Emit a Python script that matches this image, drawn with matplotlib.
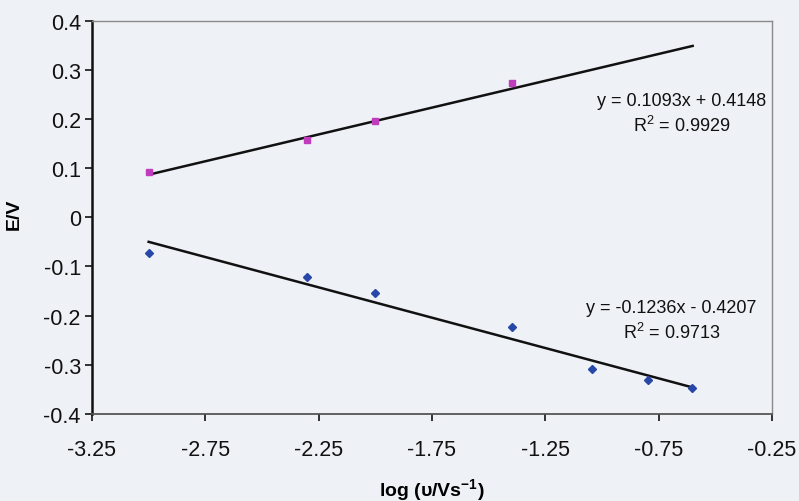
import matplotlib
matplotlib.use("Agg")
import matplotlib.pyplot as plt
import numpy as np

plt.rcParams['font.family'] = ['Liberation Sans', 'DejaVu Sans']
plt.rcParams['mathtext.default'] = 'regular'

# log of scan rate (V/s)
x_anodic = [-3.0, -2.301, -2.0, -1.398]
e_anodic = [0.093, 0.158, 0.196, 0.273]

x_cathodic = [-3.0, -2.301, -2.0, -1.398, -1.046, -0.796, -0.602]
e_cathodic = [-0.072, -0.122, -0.154, -0.223, -0.309, -0.331, -0.348]

# linear trendlines: slope, intercept, R^2
fit_anodic = [0.1093, 0.4148, 0.9929]
fit_cathodic = [-0.1236, -0.4207, 0.9713]
fit_range = [-3.0, -0.6]

xticks = [-3.25, -2.75, -2.25, -1.75, -1.25, -0.75, -0.25]
yticks = [-0.4, -0.3, -0.2, -0.1, 0, 0.1, 0.2, 0.3, 0.4]

bg = '#eef1f6'
fig = plt.figure(figsize=(7.99, 5.02), dpi=100, facecolor=bg)
ax = fig.add_axes([0.1151, 0.1739, 0.8511, 0.7823], facecolor=bg)

xf = np.array(fit_range)
ax.plot(xf, fit_anodic[0] * xf + fit_anodic[1], color='#111111', lw=1.8, zorder=2)
ax.plot(xf, fit_cathodic[0] * xf + fit_cathodic[1], color='#111111', lw=1.8, zorder=2)

ax.plot(x_anodic, e_anodic, ls='none', marker='s', ms=5, color='#c03cbc',
        mec='#c03cbc', zorder=3)
ax.plot(x_cathodic, e_cathodic, ls='none', marker='D', ms=4.5, color='#2848a8',
        mec='#2848a8', zorder=3)

ax.set_xlim(-3.25, -0.25)
ax.set_ylim(-0.4, 0.4)
ax.set_xticks(xticks)
ax.set_yticks(yticks)
ax.set_xticklabels([f'{t:g}' for t in xticks])
ax.set_yticklabels(['0' if t == 0 else f'{t:.1f}' for t in yticks])
ax.tick_params(axis='both', direction='out', length=5, width=1.2,
               labelsize=15.5, colors='#111111')
ax.tick_params(axis='y', pad=3)
ax.tick_params(axis='x', pad=13)

for side in ['top', 'right']:
    ax.spines[side].set_color('#8a8a8a')
    ax.spines[side].set_linewidth(1.0)
ax.spines['left'].set_color('#111111')
ax.spines['left'].set_linewidth(1.8)
ax.spines['bottom'].set_color('#555555')
ax.spines['bottom'].set_linewidth(1.3)

fig.text(14 / 799, 1 - 214 / 502, 'E/V', fontsize=14, fontweight='bold',
         rotation=90, ha='center', va='center')
fig.text(432 / 799, 1 - 490 / 502, r'log ($\upsilon$/Vs$^{-1}$)', fontsize=14,
         fontweight='bold', ha='center', va='center')

def eq_text(fit):
    m, b, r2 = fit
    sign = '+' if b >= 0 else '-'
    return f'y = {m:.4f}x {sign} {abs(b):.4f}\nR$^2$ = {r2:.4f}'

ax.text(-0.649, 0.211, eq_text(fit_anodic), ha='center', va='center',
        fontsize=13, linespacing=1.35, color='#111111')
ax.text(-0.694, -0.210, eq_text(fit_cathodic), ha='center', va='center',
        fontsize=13, linespacing=1.35, color='#111111')

fig.savefig('out.png', dpi=100, facecolor=bg)
